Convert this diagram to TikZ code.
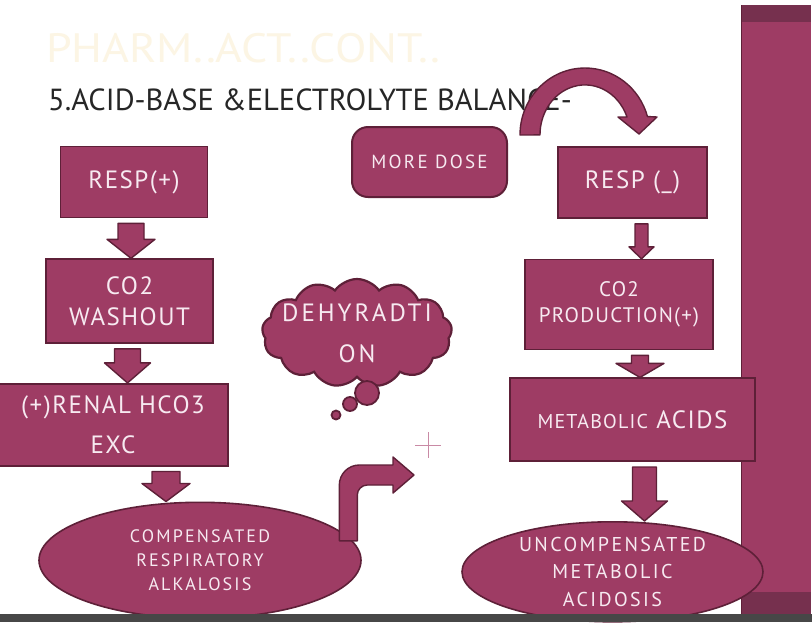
\documentclass[tikz,border=0pt]{standalone}
\usepackage{fontspec}
\usepackage{graphicx}
\setmainfont{PT Sans}
\newfontfamily\boxfont[LetterSpace=6]{PT Sans}
\newfontfamily\widefont[LetterSpace=12]{PT Sans}
\usepackage{tikz}
\usetikzlibrary{calc,positioning,shapes.geometric,shapes.symbols}

\definecolor{plum}{HTML}{9E3C64}
\definecolor{plumdark}{HTML}{5E2038}
\definecolor{plumband}{HTML}{76304E}
\definecolor{boxtext}{HTML}{F7EAF1}
\definecolor{ghost}{HTML}{FCF5E4}
\definecolor{crosscol}{HTML}{C98AA5}

% fat down arrow between two nodes: from, to, xshift, half shaft, half head, head length
\newcommand{\blockarrow}[6]{%
  \draw[blockarr] let \p1=([xshift=#3pt]#1.south), \p2=(#2.north) in
    (\x1-#4pt,\y1-5pt) -- (\x1-#4pt,\y2+#6pt) -- (\x1-#5pt,\y2+#6pt) -- (\x1,\y2)
    -- (\x1+#5pt,\y2+#6pt) -- (\x1+#4pt,\y2+#6pt) -- (\x1+#4pt,\y1-5pt) -- cycle;}

\begin{document}
\begin{tikzpicture}[
  x=1pt, y=-1pt,
  every node/.style={align=center, inner sep=0pt},
  box/.style={draw=plumdark, line width=1.6pt, fill=plum, text=boxtext, font=\boxfont\fontsize{25}{31}\selectfont},
  oval/.style={ellipse, draw=plumdark, line width=1.6pt, fill=plum, text=boxtext},
  blockarr/.style={draw=plumdark, line width=1.4pt, fill=plum, line join=round},
  bubble/.style={draw=plumdark, line width=1.8pt, fill=plum}
]
\fill[white] (0,0) rectangle (812,622);
\useasboundingbox (0,0) rectangle (812,622);

% side bar
\fill[plum] (741,5) rectangle (811,615);
\fill[plumband] (741,5) rectangle (811,22);
\fill[plumband] (741,592) rectangle (811,614);
\draw[plumdark, line width=1pt] (741.5,5) -- (741.5,615);

\node[anchor=base west, text=ghost, font=\fontsize{41}{45}\selectfont] (ghosttitle) at (46,62)
  {\scalebox{1.12}[1]{PHARM..ACT..CONT..}};
\node[anchor=base west, text=black!85, font=\fontsize{30.5}{35}\selectfont] (title) at (48,110)
  {5.ACID-BASE \&ELECTROLYTE BALANCE-};

% left chain
\node[box, minimum width=147pt, minimum height=71pt] (respp) at (134,182) {RESP(+)};
\node[box, minimum width=167pt, minimum height=84pt, below=40pt of respp, xshift=-4.5pt] (washout) {CO2\\WASHOUT};
\node[box, minimum width=230pt, minimum height=82pt, below=39pt of washout, xshift=-16.5pt,
  font=\boxfont\fontsize{25}{40}\selectfont] (renal) {(+)RENAL HCO3\\EXC};
\node[oval, minimum width=322pt, minimum height=116pt, below=35pt of renal, xshift=87pt,
  font=\widefont\fontsize{18}{24}\selectfont] (compalk) {COMPENSATED\\RESPIRATORY\\ALKALOSIS};

% middle
\node[box, rounded corners=16pt, line width=2pt, minimum width=155pt, minimum height=70pt,
  font=\widefont\fontsize{19}{23}\selectfont] (moredose) at (429.5,162) {MORE DOSE};
\node[cloud, cloud puffs=13, cloud puff arc=110, aspect=1.8, draw=plumdark, line width=2.2pt, fill=plum,
  inner xsep=-30pt, inner ysep=-12pt, text=boxtext, minimum width=190pt, minimum height=108pt,
  font=\widefont\fontsize{25}{41}\selectfont] (dehyd) at (357,333) {DEHYRADTI\\ON};
\draw[bubble] (367,393) circle[radius=12pt];
\draw[bubble] (350,404) circle[radius=7pt];
\draw[bubble] (336,415) circle[radius=4.5pt];

% right chain
\node[box, minimum width=149pt, minimum height=71pt] (respm) at (632.5,182.5) {RESP (\_)};
\node[box, minimum width=188pt, minimum height=90pt, below=40pt of respm, xshift=-13.5pt,
  font=\boxfont\fontsize{21}{26}\selectfont] (co2prod) {CO2\\PRODUCTION(+)};
\node[box, minimum width=245pt, minimum height=83pt, below=27pt of co2prod, xshift=13.5pt] (metab)
  {{\fontsize{20}{24}\selectfont METABOLIC} ACIDS};
\node[oval, minimum width=301pt, minimum height=100pt, below=59pt of metab, xshift=-20pt,
  font=\widefont\fontsize{20}{27.5}\selectfont] (uncomp) {UNCOMPENSATED\\METABOLIC\\ACIDOSIS};

\blockarrow{respp}{washout}{-3}{13}{24}{19}
\blockarrow{washout}{renal}{-2}{13}{23}{20}
\blockarrow{renal}{compalk}{53}{14}{24}{18}
\blockarrow{respm}{co2prod}{9}{6.5}{12.5}{12}
\blockarrow{co2prod}{metab}{21}{8.5}{24}{14}
\blockarrow{metab}{uncomp}{12}{12}{23}{20}

% curved arrow over the title
\coordinate (arcfoot) at (520,135);
\coordinate (arctip) at (639,134);
\draw[blockarr] let \p1=(arcfoot), \p2=(arctip) in
  (\p1) arc[start angle=180, end angle=16, x radius=65pt, y radius=67pt]
  -- (\x2+18pt,\y2+17pt) -- (\p2) -- (\x2-21pt,\y2+17pt)
  -- ++(9pt,0pt) arc[start angle=21, end angle=180, x radius=45pt, y radius=50pt] -- cycle;

% bent arrow out of the left oval
\coordinate (bendtip) at (414,475);
\draw[blockarr] let \p1=(compalk.9), \p2=(bendtip) in
  (\x1-9pt,\y1-4pt) -- (\x1-9pt,\y2-10pt) arc[start angle=180, end angle=90, radius=20pt]
  -- (\x2-21pt,\y2+10pt) -- (\x2-21pt,\y2+18pt) -- (\p2) -- (\x2-21pt,\y2-18pt) -- (\x2-21pt,\y2-10pt)
  -- (\x1+19pt,\y2-10pt) arc[start angle=90, end angle=180, radius=10pt] -- (\x1+9pt,\y1-4pt) -- cycle;

\draw[crosscol, line width=1pt] (415,445) -- (441,445) (428,432) -- (428,458);

\fill[black!72] (0,614) rectangle (812,622);
\end{tikzpicture}
\end{document}
